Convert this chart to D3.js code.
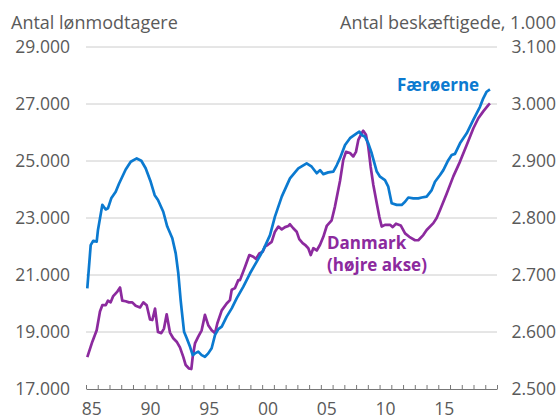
<!DOCTYPE html>
<html>
<head>
<meta charset="utf-8">
<script src="https://cdn.jsdelivr.net/npm/d3@7"></script>
<style>
  body { margin: 0; background: #fff; }
  svg text { font-family: "Open Sans", "Noto Sans", sans-serif; }
</style>
</head>
<body>
<div class="chart"></div>
<script>
// Færøerne, antal lønmodtagere (venstre akse)
const faroeYears = [1985.11, 1985.40, 1985.62, 1985.91, 1986.02, 1986.39, 1986.68, 1986.87, 1987.15, 1987.53,
  1987.81, 1988.38, 1988.81, 1989.32, 1989.71, 1990.08, 1990.51, 1990.85, 1991.13, 1991.58,
  1991.92, 1992.35, 1992.64, 1992.86, 1993.06, 1993.15, 1993.35, 1993.58, 1993.86, 1994.09,
  1994.28, 1994.56, 1994.85, 1995.13, 1995.41, 1995.70, 1995.99, 1996.27, 1996.56, 1996.98,
  1997.41, 1997.83, 1998.40, 1998.97, 1999.54, 2000.10, 2000.67, 2001.09, 2001.67, 2002.37,
  2003.08, 2003.79, 2004.22, 2004.65, 2004.93, 2005.21, 2005.63, 2006.06, 2006.35, 2006.63,
  2007.06, 2007.48, 2008.05, 2008.27, 2008.48, 2008.76, 2009.04, 2009.33, 2009.76, 2010.04,
  2010.46, 2010.74, 2011.03, 2011.46, 2011.88, 2012.17, 2012.45, 2012.87, 2013.30, 2013.59,
  2014.01, 2014.44, 2014.72, 2015.15, 2015.43, 2015.85, 2016.14, 2016.42, 2016.85, 2017.42,
  2017.98, 2018.55, 2018.83, 2019.12, 2019.40];
const faroeValues = [20530, 22050, 22200, 22170, 22580, 23460, 23300, 23340, 23690, 23920,
  24200, 24700, 24975, 25090, 25010, 24745, 24270, 23800, 23630, 23220,
  22700, 22290, 21760, 21060, 20120, 19770, 19010, 18780, 18480, 18190,
  18250, 18310, 18190, 18130, 18250, 18430, 18900, 19100, 19190, 19540,
  19830, 20180, 20590, 21060, 21470, 21880, 22400, 23050, 23750, 24390,
  24740, 24920, 24800, 24570, 24680, 24540, 24600, 24630, 24850, 25100,
  25560, 25800, 25970, 26030, 25910, 25850, 25620, 25270, 24630, 24450,
  24330, 24100, 23520, 23460, 23460, 23570, 23720, 23690, 23690, 23720,
  23750, 23980, 24270, 24510, 24680, 25030, 25210, 25250, 25620, 25970,
  26440, 26900, 27200, 27430, 27510];

// Danmark, antal beskæftigede i 1.000 (højre akse)
const denmarkYears = [1985.11, 1985.54, 1985.91, 1986.19, 1986.39, 1986.68, 1986.87, 1987.10, 1987.32, 1987.67,
  1987.90, 1988.09, 1988.38, 1988.66, 1988.94, 1989.23, 1989.60, 1989.88, 1990.17, 1990.45,
  1990.65, 1990.88, 1991.13, 1991.41, 1991.64, 1991.87, 1992.15, 1992.43, 1992.72, 1993.00,
  1993.29, 1993.49, 1993.77, 1993.97, 1994.09, 1994.28, 1994.56, 1994.85, 1995.13, 1995.41,
  1995.70, 1995.99, 1996.18, 1996.56, 1996.98, 1997.26, 1997.41, 1997.69, 1997.97, 1998.11,
  1998.54, 1998.91, 1999.25, 1999.48, 1999.76, 2000.05, 2000.24, 2000.49, 2000.81, 2001.09,
  2001.38, 2001.67, 2001.95, 2002.23, 2002.37, 2002.65, 2002.94, 2003.16, 2003.45, 2003.65,
  2003.93, 2004.14, 2004.36, 2004.65, 2004.93, 2005.21, 2005.50, 2005.92, 2006.20, 2006.63,
  2006.91, 2007.14, 2007.48, 2007.76, 2007.99, 2008.19, 2008.48, 2008.61, 2008.84, 2009.04,
  2009.24, 2009.47, 2009.76, 2009.98, 2010.18, 2010.46, 2010.89, 2011.12, 2011.40, 2011.80,
  2012.17, 2012.53, 2013.02, 2013.30, 2013.72, 2014.01, 2014.58, 2014.86, 2015.15, 2015.72,
  2016.28, 2016.85, 2017.42, 2017.98, 2018.41, 2018.83, 2019.26, 2019.40];
const denmarkValues = [2556, 2583, 2603, 2636, 2647, 2647, 2655, 2652, 2663, 2671,
  2678, 2655, 2654, 2652, 2652, 2646, 2643, 2652, 2647, 2622,
  2621, 2641, 2600, 2598, 2606, 2631, 2599, 2589, 2583, 2573,
  2556, 2542, 2536, 2535, 2557, 2580, 2592, 2603, 2630, 2612,
  2603, 2598, 2615, 2638, 2650, 2656, 2674, 2677, 2691, 2691,
  2714, 2735, 2732, 2728, 2738, 2741, 2750, 2753, 2758, 2776,
  2785, 2780, 2784, 2786, 2789, 2782, 2776, 2763, 2756, 2753,
  2747, 2735, 2747, 2743, 2753, 2767, 2786, 2796, 2820, 2865,
  2902, 2916, 2914, 2908, 2916, 2937, 2949, 2953, 2946, 2925,
  2890, 2858, 2826, 2802, 2785, 2788, 2788, 2784, 2790, 2787,
  2773, 2767, 2761, 2761, 2770, 2779, 2791, 2800, 2814, 2843,
  2873, 2899, 2928, 2957, 2975, 2987, 2998, 3001];

const leftTicks = [17000, 19000, 21000, 23000, 25000, 27000, 29000];
const rightTicks = [2500, 2600, 2700, 2800, 2900, 3000, 3100];
const yearLabels = [1985, 1990, 1995, 2000, 2005, 2010, 2015];

const width = 560, height = 419;
const margin = { top: 47, right: 63, bottom: 30, left: 86 };

const blue = "#0b7ad0";
const purple = "#8c2a9e";
const textColor = "#5a5a5a";

const dk = d3.formatLocale({ decimal: ",", thousands: ".", grouping: [3], currency: ["", ""] });
const fmt = dk.format(",d");

const x = d3.scaleLinear().domain([1985, 2020]).range([margin.left, width - margin.right]);
const yLeft = d3.scaleLinear().domain([17000, 29000]).range([height - margin.bottom, margin.top]);
const yRight = d3.scaleLinear().domain([2500, 3100]).range([height - margin.bottom, margin.top]);

const svg = d3.select("div.chart").append("svg")
  .attr("width", width)
  .attr("height", height);

// gridlines
svg.selectAll("line.grid")
  .data(leftTicks.slice(1))
  .enter().append("line")
  .attr("class", "grid")
  .attr("x1", x(1985))
  .attr("x2", x(2020))
  .attr("y1", d => yLeft(d))
  .attr("y2", d => yLeft(d))
  .attr("stroke", "#cccccc")
  .attr("stroke-width", 1);

// left axis labels
svg.selectAll("text.left")
  .data(leftTicks)
  .enter().append("text")
  .attr("class", "left")
  .attr("x", 70)
  .attr("y", d => yLeft(d))
  .attr("dy", "0.35em")
  .attr("text-anchor", "end")
  .attr("font-size", 17.5)
  .attr("fill", textColor)
  .text(d => fmt(d));

// right axis labels
svg.selectAll("text.right")
  .data(rightTicks)
  .enter().append("text")
  .attr("class", "right")
  .attr("x", 556)
  .attr("y", d => yRight(d))
  .attr("dy", "0.35em")
  .attr("text-anchor", "end")
  .attr("font-size", 17.5)
  .attr("fill", textColor)
  .text(d => fmt(d));

// x axis with yearly ticks
const xAxis = d3.axisBottom(x)
  .tickValues(d3.range(1985, 2021))
  .tickSizeInner(-4)
  .tickSizeOuter(0)
  .tickFormat("");
const gx = svg.append("g")
  .attr("transform", `translate(0,${yLeft(17000)})`)
  .call(xAxis);
gx.select(".domain").attr("stroke", "#777");
gx.selectAll(".tick line").attr("stroke", "#777");

svg.selectAll("text.year")
  .data(yearLabels)
  .enter().append("text")
  .attr("class", "year")
  .attr("x", d => x(d + 0.5))
  .attr("y", 415)
  .attr("text-anchor", "middle")
  .attr("font-size", 17.5)
  .attr("fill", textColor)
  .text(d => String(d % 100).padStart(2, "0"));

// titles
svg.append("text")
  .attr("x", 11)
  .attr("y", 29)
  .attr("font-size", 18)
  .attr("fill", textColor)
  .text("Antal lønmodtagere");
svg.append("text")
  .attr("x", 556)
  .attr("y", 29)
  .attr("text-anchor", "end")
  .attr("font-size", 18)
  .attr("fill", textColor)
  .text("Antal beskæftigede, 1.000");

// lines
const faroeLine = d3.line()
  .x((d, i) => x(faroeYears[i]))
  .y(d => yLeft(d));
const denmarkLine = d3.line()
  .x((d, i) => x(denmarkYears[i]))
  .y(d => yRight(d));

svg.append("path")
  .attr("d", denmarkLine(denmarkValues))
  .attr("fill", "none")
  .attr("stroke", purple)
  .attr("stroke-width", 2.7)
  .attr("stroke-linejoin", "round");

svg.append("path")
  .attr("d", faroeLine(faroeValues))
  .attr("fill", "none")
  .attr("stroke", blue)
  .attr("stroke-width", 2.7)
  .attr("stroke-linejoin", "round");

// series labels
svg.append("text")
  .attr("x", 397)
  .attr("y", 91)
  .attr("font-size", 17)
  .attr("font-weight", "bold")
  .attr("fill", blue)
  .text("Færøerne");

const dLabel = svg.append("text")
  .attr("x", 327)
  .attr("y", 249)
  .attr("font-size", 17)
  .attr("font-weight", "bold")
  .attr("fill", purple);
dLabel.append("tspan").attr("x", 327).text("Danmark");
dLabel.append("tspan").attr("x", 327).attr("dy", 22).text("(højre akse)");
</script>
</body>
</html>
